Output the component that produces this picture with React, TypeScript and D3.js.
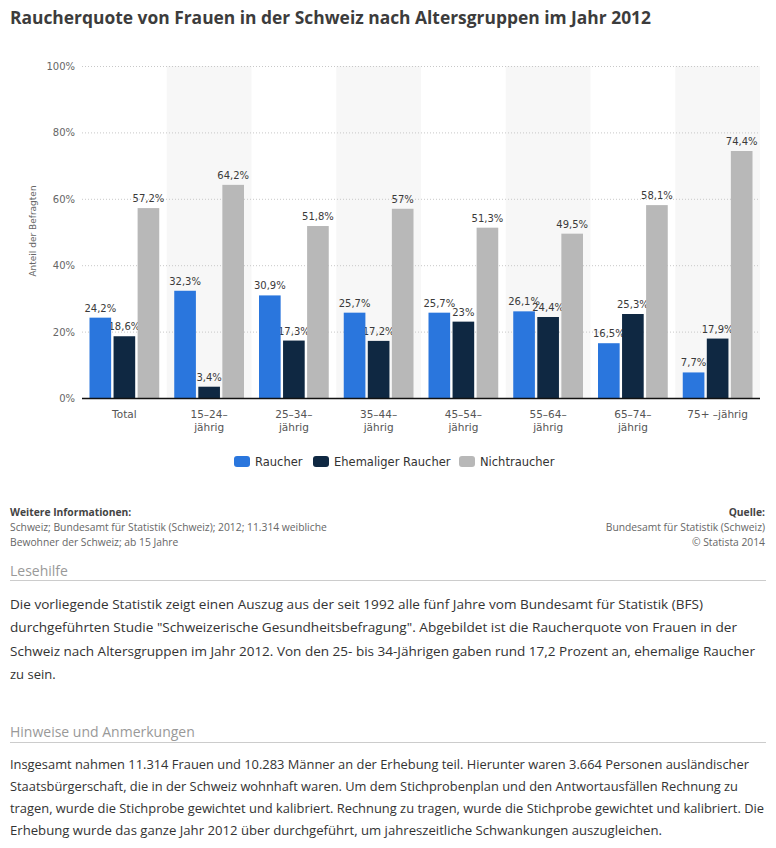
import React from "react";
import * as d3 from "d3";

const categories = ["Total", "15–24–\njährig", "25–34–\njährig", "35–44–\njährig", "45–54–\njährig", "55–64–\njährig", "65–74–\njährig", "75+ –jährig"];
const seriesNames = ["Raucher", "Ehemaliger Raucher", "Nichtraucher"];
const raucher = [24.2, 32.3, 30.9, 25.7, 25.7, 26.1, 16.5, 7.7];
const ehemalige = [18.6, 3.4, 17.3, 17.2, 23, 24.4, 25.3, 17.9];
const nichtraucher = [57.2, 64.2, 51.8, 57, 51.3, 49.5, 58.1, 74.4];
const yTicks = [0, 20, 40, 60, 80, 100];
const colors = ["#2a76dd", "#0f2842", "#b8b8b8"];

const title = "Raucherquote von Frauen in der Schweiz nach Altersgruppen im Jahr 2012";
const lesehilfeLines = [
  "Die vorliegende Statistik zeigt einen Auszug aus der seit 1992 alle fünf Jahre vom Bundesamt für Statistik (BFS)",
  "durchgeführten Studie \"Schweizerische Gesundheitsbefragung\". Abgebildet ist die Raucherquote von Frauen in der",
  "Schweiz nach Altersgruppen im Jahr 2012. Von den 25- bis 34-Jährigen gaben rund 17,2 Prozent an, ehemalige Raucher",
  "zu sein.",
];
const lesehilfeWidths = [693, 727, 745, 0];
const hinweiseLines = [
  "Insgesamt nahmen 11.314 Frauen und 10.283 Männer an der Erhebung teil. Hierunter waren 3.664 Personen ausländischer",
  "Staatsbürgerschaft, die in der Schweiz wohnhaft waren. Um dem Stichprobenplan und den Antwortausfällen Rechnung zu",
  "tragen, wurde die Stichprobe gewichtet und kalibriert. Rechnung zu tragen, wurde die Stichprobe gewichtet und kalibriert. Die",
  "Erhebung wurde das ganze Jahr 2012 über durchgeführt, um jahreszeitliche Schwankungen auszugleichen.",
];
const hinweiseWidths = [739, 728, 754, 652];
const infoLines = ["Schweiz; Bundesamt für Statistik (Schweiz); 2012; 11.314 weibliche", "Bewohner der Schweiz; ab 15 Jahre"];
const quelleLines = ["Bundesamt für Statistik (Schweiz)", "© Statista 2014"];

const fmt = (v: number) => String(v).replace(".", ",") + "%";

export default function App() {
  const W = 776, H = 848;
  const left = 82, right = 760, top = 66, bottom = 398;
  const x0 = d3.scaleBand<number>().domain(d3.range(categories.length)).range([left, right]).padding(0);
  const x1 = d3.scaleBand<number>().domain([0, 1, 2]).range([7.5, x0.bandwidth() - 7.5]).paddingInner(0.1);
  const y = d3.scaleLinear().domain([0, 100]).range([bottom, top]);
  const series = [raucher, ehemalige, nichtraucher];
  const labelFont = "'DejaVu Sans', Verdana, sans-serif";
  const textFont = "'Open Sans', sans-serif";

  const legendX = [234, 313, 459];

  return (
    <svg width={W} height={H} style={{ position: "absolute", left: 0, top: 0, background: "#fff" }}>
      <text x={10} y={24} fontFamily={textFont} fontWeight={700} fontSize={18} fill="#3c3c3c" textLength={641} lengthAdjust="spacingAndGlyphs">{title}</text>

      {categories.map((c, i) => i % 2 === 1 ? (
        <rect key={"b" + i} x={x0(i)} y={top} width={x0.bandwidth()} height={bottom - top} fill="#f7f7f7" />
      ) : null)}

      {yTicks.filter(t => t > 0).map(t => (
        <line key={"g" + t} x1={left} x2={right} y1={y(t) + 0.5} y2={y(t) + 0.5} stroke="#c8c8c8" strokeDasharray="1,2" />
      ))}
      {yTicks.map(t => (
        <text key={"t" + t} x={75} y={y(t) + 4} textAnchor="end" fontFamily={labelFont} fontSize={10} fill="#666">{t + "%"}</text>
      ))}
      <text transform={`translate(36,231) rotate(-90)`} textAnchor="middle" fontFamily={labelFont} fontSize={9} fill="#666">Anteil der Befragten</text>

      {series.map((s, si) => s.map((v, i) => (
        <text key={`l${si}-${i}`} x={(x0(i) as number) + (x1(si) as number) + x1.bandwidth() / 2} y={y(v) - 6} textAnchor="middle" fontFamily={labelFont} fontSize={10} fill="#3a3a3a">{fmt(v)}</text>
      )))}

      {series.map((s, si) => s.map((v, i) => (
        <rect key={`r${si}-${i}`} x={(x0(i) as number) + (x1(si) as number)} y={y(v)} width={x1.bandwidth()} height={bottom - y(v)} fill={colors[si]} />
      )))}

      <line x1={left} x2={right} y1={bottom + 0.5} y2={bottom + 0.5} stroke="#111" strokeWidth={1.5} />

      {categories.map((c, i) => (
        <text key={"c" + i} textAnchor="middle" fontFamily={labelFont} fontSize={10.5} fill="#555">
          {c.split("\n").map((ln, k) => (
            <tspan key={k} x={(x0(i) as number) + x0.bandwidth() / 2} y={418 + k * 13}>{ln}</tspan>
          ))}
        </text>
      ))}

      {seriesNames.map((n, i) => (
        <g key={"lg" + i}>
          <rect x={legendX[i]} y={456} width={16} height={11} rx={3} fill={colors[i]} />
          <text x={legendX[i] + 21} y={466} fontFamily={labelFont} fontSize={11.5} fill="#333">{n}</text>
        </g>
      ))}

      <text x={10} y={516} fontFamily={textFont} fontWeight={700} fontSize={10.3} fill="#444">Weitere Informationen:</text>
      {infoLines.map((l, i) => (
        <text key={"i" + i} x={10} y={531 + i * 15} fontFamily={textFont} fontSize={10.3} fill="#666">{l}</text>
      ))}
      <text x={765} y={516} textAnchor="end" fontFamily={textFont} fontWeight={700} fontSize={10.3} fill="#444">Quelle:</text>
      {quelleLines.map((l, i) => (
        <text key={"q" + i} x={765} y={531 + i * 15} textAnchor="end" fontFamily={textFont} fontSize={10.3} fill="#666">{l}</text>
      ))}

      <text x={10} y={576} fontFamily={textFont} fontSize={14} fill="#999">Lesehilfe</text>
      <line x1={10} x2={766} y1={580.5} y2={580.5} stroke="#ccc" strokeWidth={1} />
      {lesehilfeLines.map((l, i) => (
        <text key={"h" + i} x={10} y={609 + i * 23.3} fontFamily={textFont} fontSize={13} fill="#333"
          {...(lesehilfeWidths[i] ? { textLength: lesehilfeWidths[i], lengthAdjust: "spacingAndGlyphs" } : {})}>{l}</text>
      ))}

      <text x={10} y={737} fontFamily={textFont} fontSize={14} fill="#999">Hinweise und Anmerkungen</text>
      <line x1={10} x2={766} y1={742.5} y2={742.5} stroke="#ccc" strokeWidth={1} />
      {hinweiseLines.map((l, i) => (
        <text key={"n" + i} x={10} y={769 + i * 22} fontFamily={textFont} fontSize={13} fill="#333"
          textLength={hinweiseWidths[i]} lengthAdjust="spacingAndGlyphs">{l}</text>
      ))}
    </svg>
  );
}
